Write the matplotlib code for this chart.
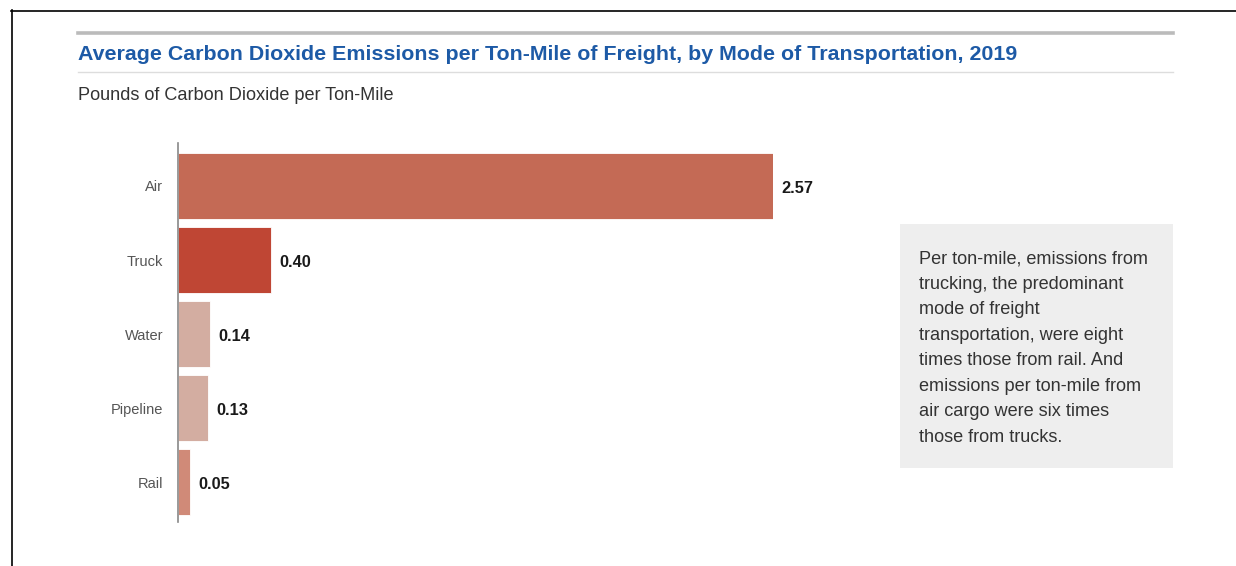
import matplotlib
matplotlib.use("Agg")
import matplotlib.pyplot as plt
from matplotlib.lines import Line2D
from matplotlib.patches import Rectangle
from matplotlib import font_manager

categories = ["Air", "Truck", "Water", "Pipeline", "Rail"]
values = [2.57, 0.40, 0.14, 0.13, 0.05]
value_labels = ["2.57", "0.40", "0.14", "0.13", "0.05"]
bar_colors = ["#c46a55", "#bf4634", "#d3ada1", "#d3ada1", "#d08a78"]

title = "Average Carbon Dioxide Emissions per Ton-Mile of Freight, by Mode of Transportation, 2019"
subtitle = "Pounds of Carbon Dioxide per Ton-Mile"
note = ("Per ton-mile, emissions from\ntrucking, the predominant\nmode of freight\n"
        "transportation, were eight\ntimes those from rail. And\nemissions per ton-mile from\n"
        "air cargo were six times\nthose from trucks.")

W, H = 1236, 566
fig = plt.figure(figsize=(W / 100, H / 100), dpi=100)
plt.rcParams['font.family'] = ['Liberation Sans', 'DejaVu Sans']

available = {f.name for f in font_manager.fontManager.ttflist}
narrow = 'Liberation Sans Narrow' in available
cat_family = ['Liberation Sans Narrow', 'Liberation Sans'] if narrow else ['Liberation Sans']
cat_size = 11.5 if narrow else 10.5

def fx(px):
    return px / W

def fy(py):
    return 1 - py / H

# frame lines (top & left)
fig.add_artist(Line2D([fx(11), fx(1236)], [fy(10.5), fy(10.5)], color="black", lw=1.2))
fig.add_artist(Line2D([fx(11.5), fx(11.5)], [fy(10), fy(566)], color="black", lw=1.2))

# header rules
fig.add_artist(Line2D([fx(78), fx(1173)], [fy(33), fy(33)], color="#bbbbbb", lw=2.6))
fig.add_artist(Line2D([fx(78), fx(1173)], [fy(71.5), fy(71.5)], color="#dddddd", lw=1.0))

fig.text(fx(78), fy(55), title, color="#1d5aa6", fontsize=15.4, fontweight="bold",
         ha="left", va="center")
fig.text(fx(78), fy(96), subtitle, color="#333333", fontsize=13.1, ha="left", va="center")

# bar axes
ax_left, ax_right = 178, 773
ax_top, ax_bottom = 143, 522
ax = fig.add_axes([fx(ax_left), fy(ax_bottom), fx(ax_right - ax_left), (ax_bottom - ax_top) / H])
ypos = list(range(len(categories)))
ax.barh(ypos, values, height=0.89, color=bar_colors, edgecolor="white", linewidth=0.6)
ax.set_xlim(0, values[0])
ax.set_ylim(4.54, -0.581)
for s in ["top", "right", "bottom"]:
    ax.spines[s].set_visible(False)
ax.spines["left"].set_color("#888888")
ax.spines["left"].set_linewidth(1.2)
ax.set_xticks([])
ax.set_yticks(ypos)
ax.set_yticklabels(categories, fontsize=cat_size, color="#555555", family=cat_family)
ax.tick_params(axis="y", length=0, pad=10.5)
for y, v, lab in zip(ypos, values, value_labels):
    ax.annotate(lab, (v, y), xytext=(6, -1.6), textcoords="offset points", ha="left", va="center",
                fontsize=11.8, fontweight="bold", color="#1a1a1a", annotation_clip=False)

# note box
fig.add_artist(Rectangle((fx(900), fy(468)), fx(1173 - 900), (468 - 224) / H,
                         facecolor="#eeeeee", edgecolor="none"))
fig.text(fx(919), fy(250), note, color="#333333", fontsize=13.1, ha="left", va="top",
         linespacing=1.66)

fig.savefig("out.png", dpi=100, facecolor="white")
